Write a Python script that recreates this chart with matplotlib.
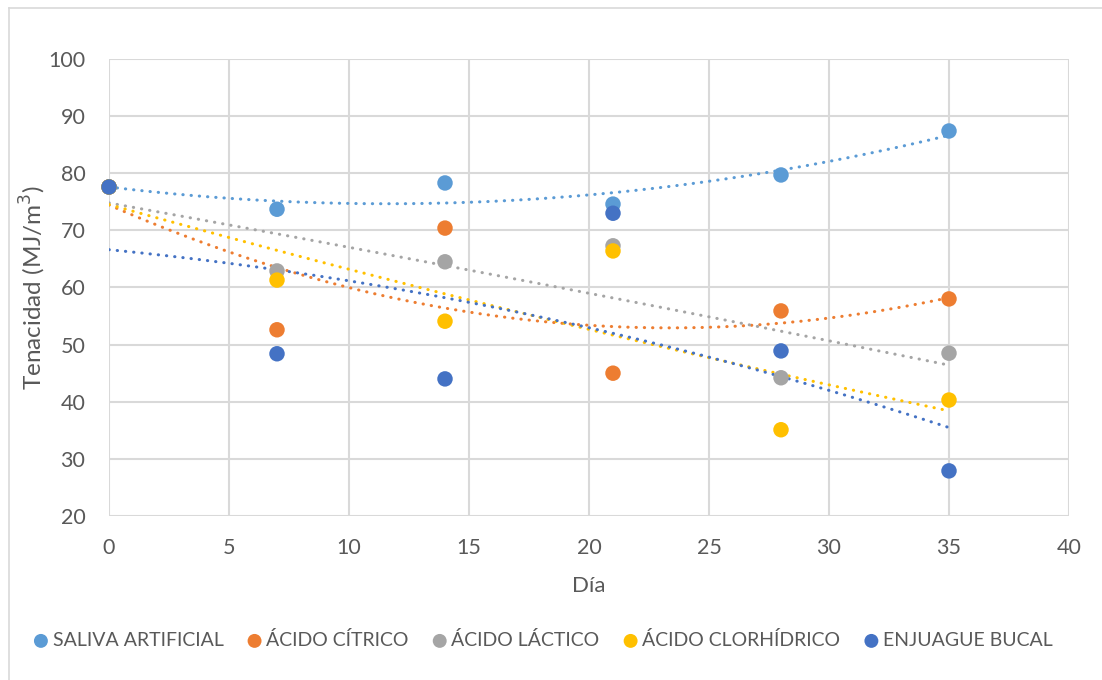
import numpy as np
import matplotlib
matplotlib.use("Agg")
import matplotlib.pyplot as plt
from matplotlib.lines import Line2D

plt.rcParams['font.family'] = ['Lato', 'DejaVu Sans']

dias = [0, 7, 14, 21, 28, 35]
saliva_artificial = [77.6, 73.7, 78.3, 74.6, 79.7, 87.4]
acido_citrico = [77.6, 52.6, 70.4, 45.0, 55.9, 58.0]
acido_lactico = [77.6, 62.9, 64.5, 67.3, 44.2, 48.5]
acido_clorhidrico = [77.6, 61.3, 54.1, 66.4, 35.1, 40.3]
enjuague_bucal = [77.6, 48.4, 44.0, 73.0, 48.9, 27.9]

series = [
    ("SALIVA ARTIFICIAL", saliva_artificial, "#5B9BD5"),
    ("ÁCIDO CÍTRICO", acido_citrico, "#ED7D31"),
    ("ÁCIDO LÁCTICO", acido_lactico, "#A5A5A5"),
    ("ÁCIDO CLORHÍDRICO", acido_clorhidrico, "#FFC000"),
    ("ENJUAGUE BUCAL", enjuague_bucal, "#4472C4"),
]

W, H = 1102, 680
TXT = "#595959"
fig = plt.figure(figsize=(W / 100, H / 100), dpi=100)
fig.patch.set_facecolor("white")

# chart-area border (left and top edges)
fig.add_artist(Line2D([9 / W, 9 / W], [0, 1 - 8 / H], transform=fig.transFigure,
                      color="#D9D9D9", lw=1.2))
fig.add_artist(Line2D([9 / W, 1], [1 - 8 / H, 1 - 8 / H], transform=fig.transFigure,
                      color="#D9D9D9", lw=1.2))

ax = fig.add_axes([109 / W, 1 - 516 / H, 960 / W, 457 / H])
ax.set_xlim(0, 40)
ax.set_ylim(20, 100)
ax.set_xticks(range(0, 41, 5))
ax.set_yticks(range(20, 101, 10))
ax.grid(True, color="#D9D9D9", lw=1.5)
ax.set_axisbelow(True)
for s in ax.spines.values():
    s.set_visible(False)
ax.tick_params(length=0, labelsize=15.5, labelcolor=TXT)
ax.tick_params(axis="y", pad=17)
ax.tick_params(axis="x", pad=16)

xs = np.linspace(0, 35, 200)
dx = np.array(dias, dtype=float)
for name, vals, color in series:
    coef = np.polyfit(dx, np.array(vals), 2)
    ax.plot(xs, np.polyval(coef, xs), color=color, lw=2.2,
            linestyle=(0, (0.1, 2.6)), dash_capstyle="round", zorder=2)

for name, vals, color in series:
    ax.scatter(dias, vals, s=124, color=color, edgecolors="none",
               zorder=3, label=name, clip_on=False)

ax.set_xlabel("Día", fontsize=16, color=TXT, labelpad=13)
ax.set_ylabel("Tenacidad (MJ/m$^3$)", fontsize=17.5, color=TXT, labelpad=0)

leg = fig.legend(loc="center", bbox_to_anchor=(542 / W, 1 - 640 / H), ncol=5,
                 frameon=False, fontsize=14, handlelength=1.0, handletextpad=0.1,
                 columnspacing=1.1, markerscale=0.9, scatterpoints=1,
                 borderaxespad=0, borderpad=0)
for t in leg.get_texts():
    t.set_color(TXT)

fig.savefig("out.png", dpi=100)
